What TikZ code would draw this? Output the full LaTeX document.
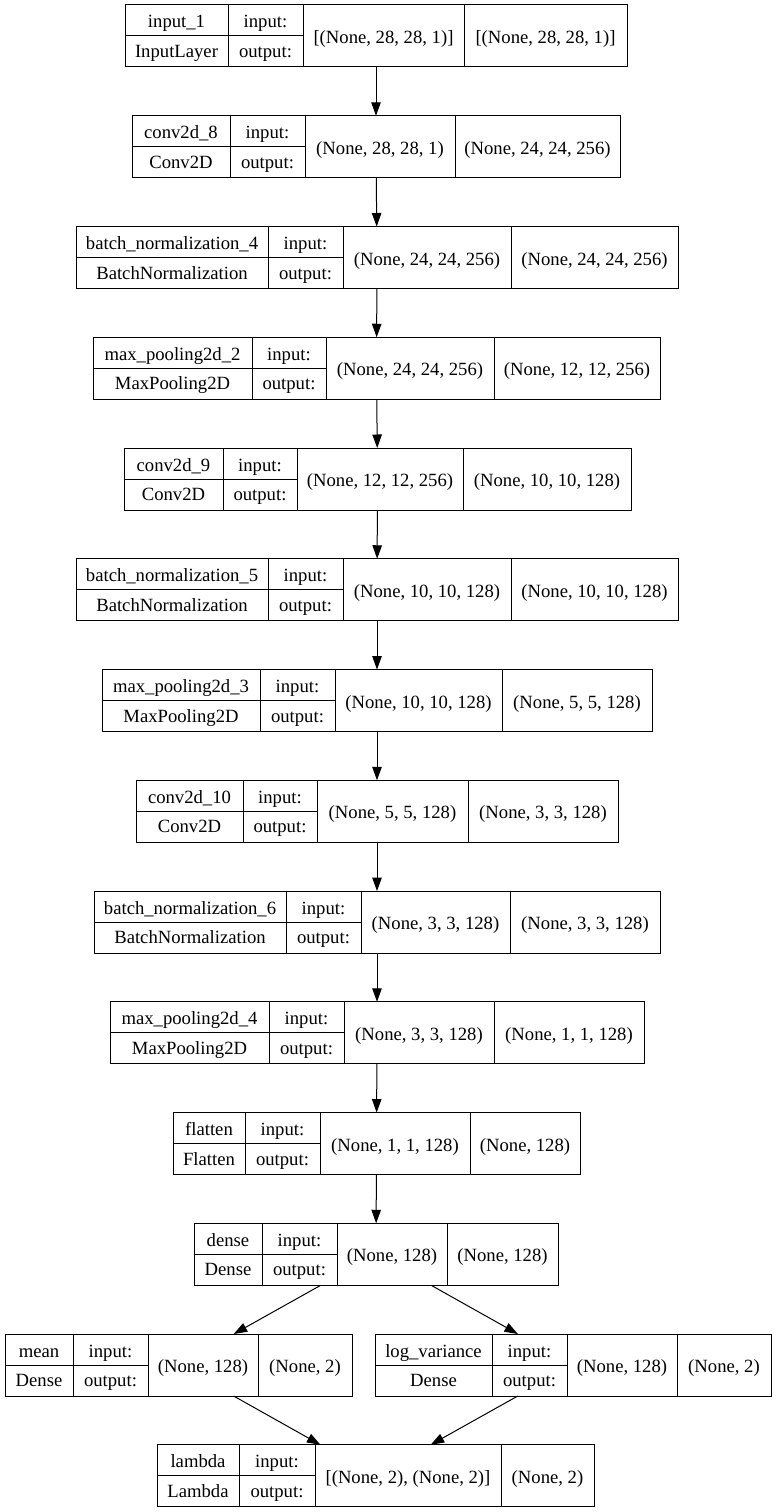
\documentclass[tikz,border=0pt]{standalone}
\usepackage{fontspec}
\setmainfont{Liberation Serif}
\newfontfamily\layerfont{Liberation Serif}
\usetikzlibrary{arrows.meta}

% Layer record: id, top, column edges x0..x4
\newcommand\kbox[7]{%
  \node[layerbox, minimum width=#7pt-#3pt, minimum height=62pt, anchor=north west] (#1) at (#3,#2) {};
  \draw[cellline] (#3,#2+31) -- (#5,#2+31);
  \draw[cellline] (#4,#2) -- (#4,#2+62);
  \draw[cellline] (#5,#2) -- (#5,#2+62);
  \draw[cellline] (#6,#2) -- (#6,#2+62);
  \coordinate (#1-pn) at ({(#3+#4)/2},#2+23);
  \coordinate (#1-pt) at ({(#3+#4)/2},#2+52.5);
  \coordinate (#1-pi) at ({(#4+#5)/2},#2+23);
  \coordinate (#1-po) at ({(#4+#5)/2},#2+52.5);
  \coordinate (#1-ps) at ({(#5+#6)/2},#2+38.5);
  \coordinate (#1-pr) at ({(#6+#7)/2},#2+38.5);
}
% Layer texts: id, layer name, class, input shape, output shape
\newcommand\ktext[5]{%
  \node[celltext] (#1-nm) at (#1-pn) {#2};
  \node[celltext] (#1-cl) at (#1-pt) {#3};
  \node[celltext] (#1-il) at (#1-pi) {input:};
  \node[celltext] (#1-ol) at (#1-po) {output:};
  \node[celltext] (#1-is) at (#1-ps) {#4};
  \node[celltext] (#1-os) at (#1-pr) {#5};
}

\begin{document}
\begin{tikzpicture}[x=1pt, y=-1pt,
  layerbox/.style={draw=black, line width=1pt, inner sep=0pt, outer sep=0pt, fill=white},
  cellline/.style={draw=black, line width=1pt},
  celltext/.style={anchor=base, inner sep=0pt, font=\layerfont\fontsize{18.67}{22}\selectfont},
  edge/.style={draw=black, line width=1pt, -{Triangle[length=13.5pt, width=9.5pt]}}]
\fill[white] (0,0) rectangle (776,1512);
\useasboundingbox (0,0) rectangle (776,1512);

\kbox{in1}{5}{125}{228}{303}{464}{627}
\ktext{in1}{input\_1}{InputLayer}{[(None, 28, 28, 1)]}{[(None, 28, 28, 1)]}

\kbox{cv8}{115.75}{132}{230}{305}{455}{620}
\ktext{cv8}{conv2d\_8}{Conv2D}{(None, 28, 28, 1)}{(None, 24, 24, 256)}

\kbox{bn4}{226.5}{76}{268}{343}{511}{678}
\ktext{bn4}{batch\_normalization\_4}{BatchNormalization}{(None, 24, 24, 256)}{(None, 24, 24, 256)}

\kbox{mp2}{337.25}{93}{252}{326}{494}{660}
\ktext{mp2}{max\_pooling2d\_2}{MaxPooling2D}{(None, 24, 24, 256)}{(None, 12, 12, 256)}

\kbox{cv9}{448}{124}{223}{297}{463}{631}
\ktext{cv9}{conv2d\_9}{Conv2D}{(None, 12, 12, 256)}{(None, 10, 10, 128)}

\kbox{bn5}{558.75}{76}{268}{343}{511}{678}
\ktext{bn5}{batch\_normalization\_5}{BatchNormalization}{(None, 10, 10, 128)}{(None, 10, 10, 128)}

\kbox{mp3}{669.5}{102}{260}{335}{502}{652}
\ktext{mp3}{max\_pooling2d\_3}{MaxPooling2D}{(None, 10, 10, 128)}{(None, 5, 5, 128)}

\kbox{cv10}{780.25}{136}{243}{317}{468}{618}
\ktext{cv10}{conv2d\_10}{Conv2D}{(None, 5, 5, 128)}{(None, 3, 3, 128)}

\kbox{bn6}{891}{94}{286}{361}{510}{660}
\ktext{bn6}{batch\_normalization\_6}{BatchNormalization}{(None, 3, 3, 128)}{(None, 3, 3, 128)}

\kbox{mp4}{1001.75}{110}{269}{344}{494}{644}
\ktext{mp4}{max\_pooling2d\_4}{MaxPooling2D}{(None, 3, 3, 128)}{(None, 1, 1, 128)}

\kbox{flt}{1112.5}{173}{245}{320}{470}{580}
\ktext{flt}{flatten}{Flatten}{(None, 1, 1, 128)}{(None, 128)}

\kbox{dns}{1223.25}{194}{262}{337}{447}{558}
\ktext{dns}{dense}{Dense}{(None, 128)}{(None, 128)}

\kbox{mean}{1334}{5}{73}{148}{258}{352}
\ktext{mean}{mean}{Dense}{(None, 128)}{(None, 2)}

\kbox{logv}{1334}{375}{492}{567}{677}{771}
\ktext{logv}{log\_variance}{Dense}{(None, 128)}{(None, 2)}

\kbox{lam}{1444.75}{157}{239}{315}{501}{594}
\ktext{lam}{lambda}{Lambda}{[(None, 2), (None, 2)]}{(None, 2)}

% connectors
\draw[edge] (in1) -- (cv8);
\draw[edge] (cv8) -- (bn4);
\draw[edge] (bn4) -- (mp2);
\draw[edge] (mp2) -- (cv9);
\draw[edge] (cv9) -- (bn5);
\draw[edge] (bn5) -- (mp3);
\draw[edge] (mp3) -- (cv10);
\draw[edge] (cv10) -- (bn6);
\draw[edge] (bn6) -- (mp4);
\draw[edge] (mp4) -- (flt);
\draw[edge] (flt) -- (dns);
\draw[edge] (dns) -- (mean);
\draw[edge] (dns) -- (logv);
\draw[edge] (mean) -- (lam);
\draw[edge] (logv) -- (lam);
\end{tikzpicture}
\end{document}
